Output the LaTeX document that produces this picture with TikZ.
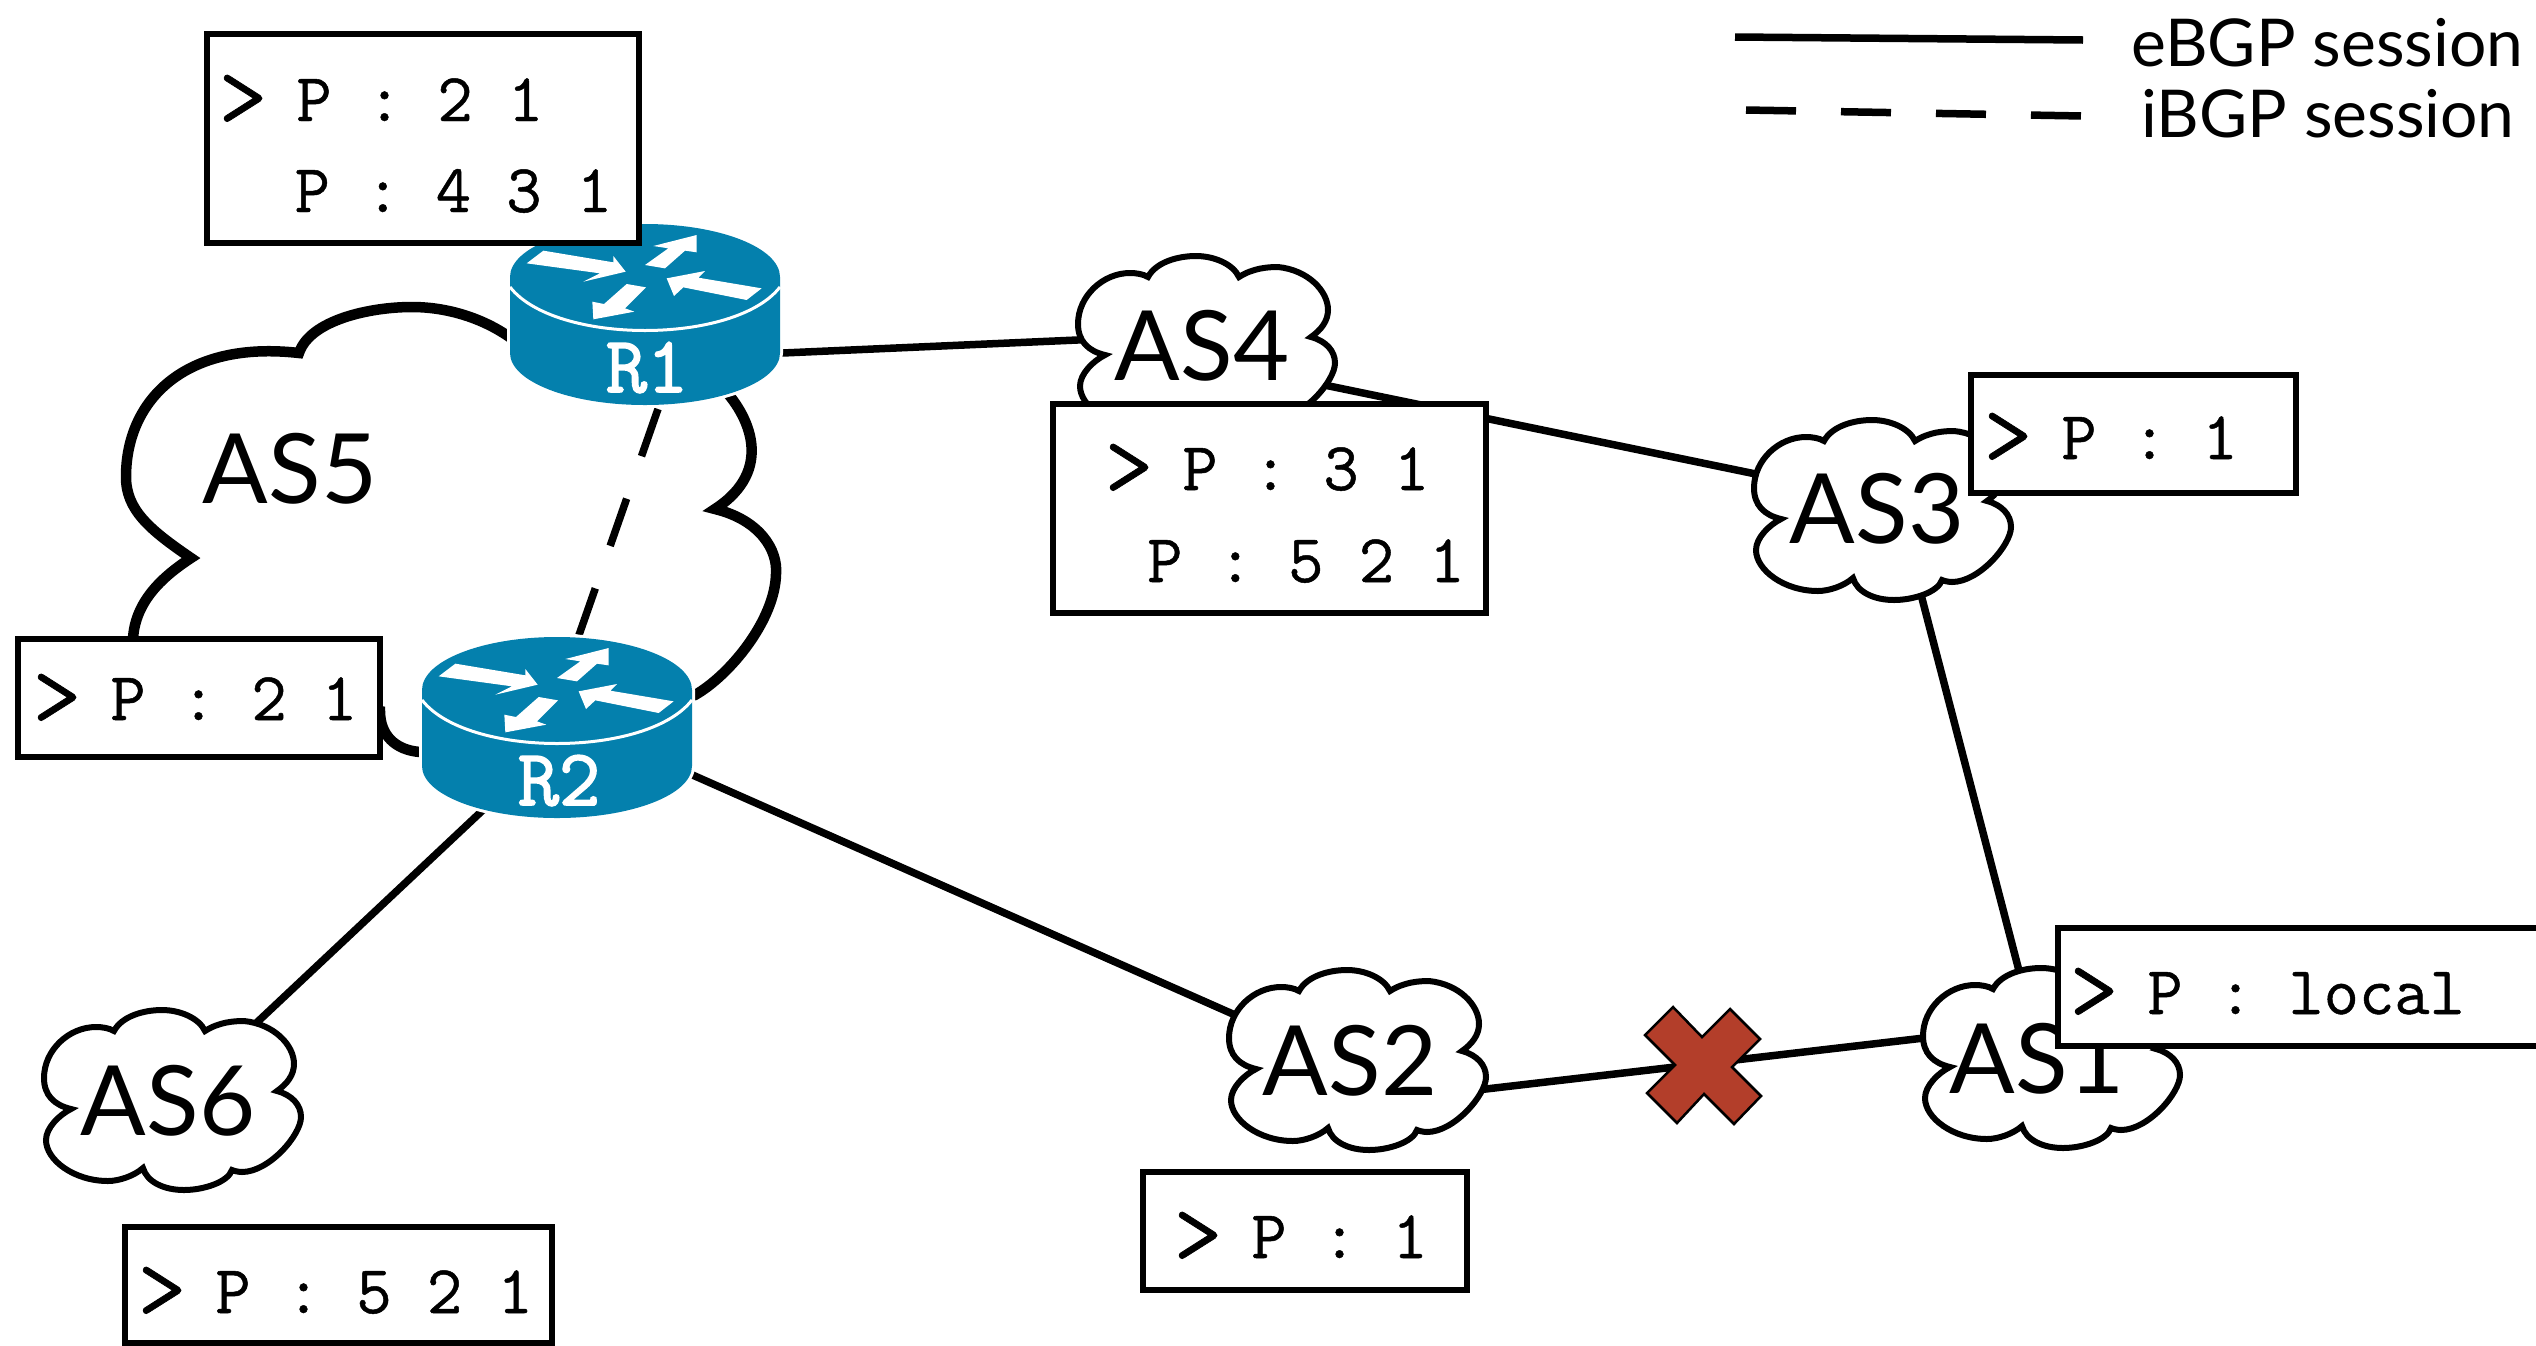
\documentclass[tikz,border=0pt]{standalone}
\usepackage{fontspec}
\setmainfont{Lato}
\setmonofont[FakeBold=0.7]{Latin Modern Mono}
\newfontfamily\routerfont[FakeBold=2]{Latin Modern Mono}
\definecolor{routerblue}{HTML}{0480AD}
\definecolor{crossred}{HTML}{B33E2A}
\newcommand{\boxfont}{\fontsize{68.5}{68.5}\selectfont\ttfamily\frenchspacing}
\newcommand{\bgtr}{\makebox[35.9pt]{\fontsize{94}{94}\selectfont\raisebox{-6pt}{>}}}
\newcommand{\routershape}{(-135,0) .. controls (-135,-29.3) and (-74.6,-53) .. (0,-53) .. controls (74.6,-53) and (135,-29.3) .. (135,0)
      -- (135,76) .. controls (135,104.7) and (74.6,128) .. (0,128) .. controls (-74.6,128) and (-135,104.7) .. (-135,76) -- cycle}
\tikzset{
  x=1pt,y=-1pt,
  link/.style={line width=7.5pt},
  ibgp/.style={line width=7.5pt,dash pattern=on 50pt off 45pt},
  tbl/.style={draw=black,fill=white,line width=5.5pt},
  tbltext/.style={anchor=base west,inner sep=0pt,font=\boxfont},
  aslabel/.style={anchor=base,inner sep=0pt,font=\fontsize{97}{97}\selectfont},
  legendtext/.style={anchor=base west,inner sep=0pt,font=\fontsize{66}{66}\selectfont},
  routerlabel/.style={anchor=base,inner sep=0pt,text=white,font=\fontsize{80}{80}\selectfont\routerfont},
  pics/cloud/.style={code={
    \draw[fill=white,line width=6pt,miter limit=4]
      (70,21) .. controls (78,6) and (100,0) .. (118,0) .. controls (136,0) and (155,8) .. (161,21)
      .. controls (175,12) and (190,11) .. (200,11) .. controls (230,14) and (250,35) .. (250,54)
      .. controls (250,65) and (243,74) .. (233,81)
      .. controls (248,85) and (257,95) .. (257,107) .. controls (257,125) and (225,162) .. (198,162)
      .. controls (195,162) and (190,161) .. (188,160)
      .. controls (184,172) and (160,180) .. (140,180) .. controls (120,180) and (103,172) .. (99,158)
      .. controls (90,166) and (75,171) .. (64,171) .. controls (30,171) and (2,150) .. (2,130)
      .. controls (2,118) and (15,105) .. (27,99)
      .. controls (10,95) and (0,85) .. (0,68) .. controls (0,40) and (25,17) .. (52,17)
      .. controls (58,17) and (65,18) .. (70,21) -- cycle;
  }},
  pics/router/.style={code={
    \path[draw=white,line width=6pt] \routershape;
    \fill[routerblue] \routershape;
    \draw[white,line width=3pt] (-135,10) .. controls (-90,68) and (90,68) .. (135,10);
    \begin{scope}[x=.3333pt,y=-.3333pt,shift={(-735,-291)}]
      \fill[white] (430,212) -- (640,247) -- (640,228) -- (677,275) -- (550,305) -- (600,280) -- (380,250) -- cycle;
      \fill[white] (735,255) -- (805,205) -- (760,198) -- (890,165) -- (890,217) -- (855,212) -- (795,265) -- cycle;
      \fill[white] (1085,325) -- (1040,360) -- (850,322) -- (822,348) -- (800,295) -- (915,273) -- (895,293) -- cycle;
      \fill[white] (738,322) -- (675,385) -- (703,395) -- (580,418) -- (577,365) -- (612,372) -- (680,312) -- cycle;
    \end{scope}
  }},
}
\begin{document}
\begin{tikzpicture}
\useasboundingbox (0,0) rectangle (2536,1345);
% ports of the connectors
\coordinate (pR1e) at (760,354);
\coordinate (pAS4w) at (1100,339);
\coordinate (pAS4e) at (1300,380);
\coordinate (pAS3w) at (1780,479);
\coordinate (pAS3s) at (1912,560);
\coordinate (pAS1n) at (2024,990);
\coordinate (pAS1w) at (1950,1035);
\coordinate (pAS2e) at (1460,1092);
\coordinate (pR2e) at (670,765);
\coordinate (pAS2w) at (1260,1026);
\coordinate (pR2s) at (500,794);
\coordinate (pAS6n) at (235,1043);
\coordinate (pR1s) at (658,409);
\coordinate (pR2n) at (579,635);
\coordinate (legA) at (1735,37);
\coordinate (legB) at (2083,40);
\coordinate (legC) at (1746,110);
\coordinate (legD) at (2083,116);
% AS5
\draw[fill=white,line width=10.5pt,line join=miter]
  (191,558) .. controls (150,530) and (126,510) .. (126,477)
  .. controls (126,400) and (185,340) .. (299,353)
  .. controls (310,320) and (370,307) .. (412,307)
  .. controls (450,307) and (490,320) .. (520,345)
  -- (720,385)
  .. controls (750,415) and (775,470) .. (715,509)
  .. controls (760,520) and (778,550) .. (776,574)
  .. controls (775,620) and (730,675) .. (695,695)
  -- (420,752)
  .. controls (395,750) and (380,735) .. (380,711)
  -- (133,660) -- (133,639)
  .. controls (135,600) and (165,575) .. (191,558) -- cycle;
\node[aslabel] (AS5) at (290,503) {AS5};
% connectors
\draw[link] (pR1e) -- (pAS4w);
\draw[link] (pAS4e) -- (pAS3w);
\draw[link] (pAS3s) -- (pAS1n);
\draw[link] (pAS1w) -- (pAS2e);
\draw[link] (pR2e) -- (pAS2w);
\draw[link] (pR2s) -- (pAS6n);
\draw[ibgp] (pR1s) -- (pR2n);
% clouds
\pic at (1078,256) {cloud};
\pic at (1754,420) {cloud};
\pic at (1229,970) {cloud};
\pic at (1923,968) {cloud};
\pic at (44,1010) {cloud};
\node[aslabel] (AS4) at (1202,380) {AS4};
\node[aslabel] (AS3) at (1877,543) {AS3};
\node[aslabel] (AS2) at (1350,1095) {AS2};
\node[aslabel] (AS1) at (2037,1093) {AS1};
\node[aslabel] (AS6) at (168,1135) {AS6};
% routers
\pic at (645,277) {router};
\pic at (557,690) {router};
\node[routerlabel] (R1) at (647,392) {R1};
\node[routerlabel] (R2) at (559,805) {R2};
% failed link
\draw[fill=crossred,line width=2.5pt,line join=miter]
  (1673,1007) -- (1702,1037) -- (1730,1009) -- (1760,1039) -- (1732,1067) -- (1761,1096)
  -- (1734,1124) -- (1704,1094) -- (1677,1123) -- (1647,1093) -- (1675,1065) -- (1645,1035) -- cycle;
% tables
\draw[tbl] (207,34) rectangle (639,243);
\node[tbltext] (t1a) at (225,121) {\bgtr{} P : 2 1};
\node[tbltext] (t1b) at (294.5,212) {P : 4 3 1};
\draw[tbl] (18,639) rectangle (380,757);
\node[tbltext] (t5) at (39,720) {\bgtr{} P : 2 1};
\draw[tbl] (1053,404) rectangle (1486,613);
\node[tbltext] (t4a) at (1111,490) {\bgtr{} P : 3 1};
\node[tbltext] (t4b) at (1147,582) {P : 5 2 1};
\draw[tbl] (1971,375) rectangle (2296,493);
\node[tbltext] (t3) at (1990,459) {\bgtr{} P : 1};
\draw[tbl] (2058,928) rectangle (2560,1046);
\node[tbltext] (tl) at (2076,1014) {\bgtr{} P : local};
\draw[tbl] (1143,1172) rectangle (1467,1290);
\node[tbltext] (t2) at (1180,1258) {\bgtr{} P : 1};
\draw[tbl] (125,1227) rectangle (552,1343);
\node[tbltext] (t6) at (144,1313) {\bgtr{} P : 5 2 1};
% legend
\draw[link] (legA) -- (legB);
\draw[ibgp] (legC) -- (legD);
\node[legendtext] (leg1) at (2131,66) {eBGP session};
\node[legendtext] (leg2) at (2141,137) {iBGP session};
\end{tikzpicture}
\end{document}
